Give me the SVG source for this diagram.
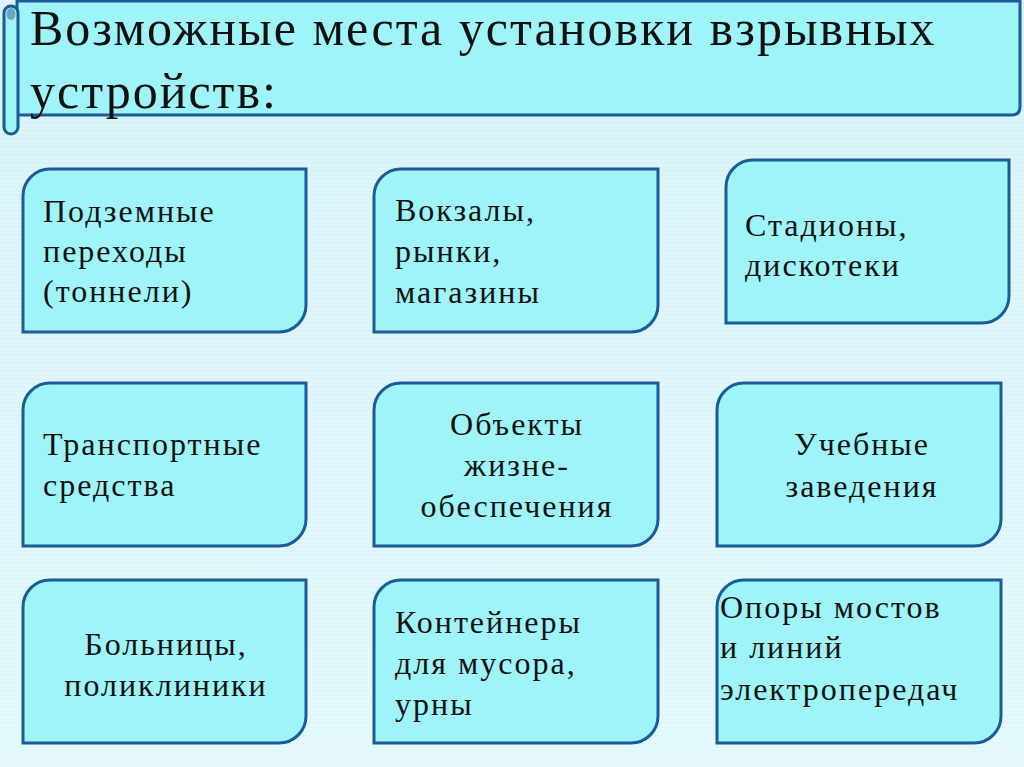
<svg xmlns="http://www.w3.org/2000/svg" width="1024" height="767" viewBox="0 0 1024 767">
<defs>
<linearGradient id="bg" x1="0" y1="0" x2="0" y2="1">
<stop offset="0" stop-color="#d4f2f8"/>
<stop offset="1" stop-color="#e0f7fb"/>
</linearGradient>
<pattern id="stripes" width="8" height="4" patternUnits="userSpaceOnUse">
<rect width="8" height="2" fill="#ffffff" opacity="0.18"/>
</pattern>
</defs>
<style>
.box{fill:#9ef4f8;stroke:#1b5b98;stroke-width:3}
.t{font-family:"Liberation Serif","DejaVu Serif",serif;font-size:32px;letter-spacing:2px;fill:#111}
.c{text-anchor:middle}
.title{font-family:"Liberation Serif","DejaVu Serif",serif;font-size:50px;letter-spacing:2px;fill:#111}
</style>
<rect width="1024" height="767" fill="url(#bg)"/>
<rect width="1024" height="767" fill="url(#stripes)"/>

<g id="title">
<path class="box" d="M17,1 H1020 V107 Q1020,115 1012,115 H17 Z"/>
<rect class="box" x="4" y="6" width="14" height="128" rx="7"/>
<ellipse cx="11" cy="14" rx="4.5" ry="6" fill="#6fa3bc"/>
<text class="title" x="30" y="45">Возможные места установки взрывных</text>
<text class="title" x="30" y="108">устройств:</text>
</g>

<g id="n1">
<path class="box" d="M50,169 H306 V305 A27,27 0 0 1 279,332 H23 V196 A27,27 0 0 1 50,169 Z"/>
<text class="t" x="43" y="222">Подземные</text>
<text class="t" x="43" y="262">переходы</text>
<text class="t" x="43" y="302">(тоннели)</text>
</g>
<g id="n2">
<path class="box" d="M401,169 H658 V305 A27,27 0 0 1 631,332 H374 V196 A27,27 0 0 1 401,169 Z"/>
<text class="t" x="395" y="221">Вокзалы,</text>
<text class="t" x="395" y="262">рынки,</text>
<text class="t" x="395" y="303">магазины</text>
</g>
<g id="n3">
<path class="box" d="M753,160 H1009 V296 A27,27 0 0 1 982,323 H726 V187 A27,27 0 0 1 753,160 Z"/>
<text class="t" x="745" y="236">Стадионы,</text>
<text class="t" x="745" y="276">дискотеки</text>
</g>

<g id="n4">
<path class="box" d="M50,383 H306 V519 A27,27 0 0 1 279,546 H23 V410 A27,27 0 0 1 50,383 Z"/>
<text class="t" x="43" y="455">Транспортные</text>
<text class="t" x="43" y="496">средства</text>
</g>
<g id="n5">
<path class="box" d="M401,383 H658 V519 A27,27 0 0 1 631,546 H374 V410 A27,27 0 0 1 401,383 Z"/>
<text class="t c" x="517" y="435">Объекты</text>
<text class="t c" x="517" y="476">жизне-</text>
<text class="t c" x="517" y="517">обеспечения</text>
</g>
<g id="n6">
<path class="box" d="M744,383 H1001 V519 A27,27 0 0 1 974,546 H717 V410 A27,27 0 0 1 744,383 Z"/>
<text class="t c" x="862" y="455">Учебные</text>
<text class="t c" x="862" y="497">заведения</text>
</g>

<g id="n7">
<path class="box" d="M50,580 H306 V716 A27,27 0 0 1 279,743 H23 V607 A27,27 0 0 1 50,580 Z"/>
<text class="t c" x="166" y="655">Больницы,</text>
<text class="t c" x="166" y="696">поликлиники</text>
</g>
<g id="n8">
<path class="box" d="M401,580 H658 V716 A27,27 0 0 1 631,743 H374 V607 A27,27 0 0 1 401,580 Z"/>
<text class="t" x="395" y="633">Контейнеры</text>
<text class="t" x="395" y="674">для мусора,</text>
<text class="t" x="395" y="715">урны</text>
</g>
<g id="n9">
<path class="box" d="M744,580 H1001 V716 A27,27 0 0 1 974,743 H717 V607 A27,27 0 0 1 744,580 Z"/>
<text class="t" x="720" y="618">Опоры мостов</text>
<text class="t" x="720" y="658">и линий</text>
<text class="t" x="720" y="700">электропередач</text>
</g>
<g id="connectors"/>
</svg>
